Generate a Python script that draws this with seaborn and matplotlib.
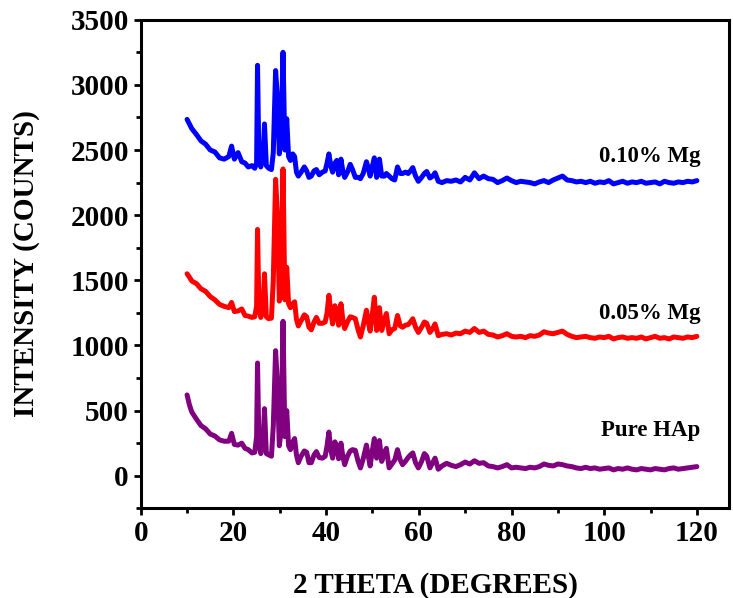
import pandas as pd
import matplotlib
matplotlib.use("Agg")
import matplotlib.pyplot as plt
from matplotlib.ticker import MultipleLocator
import seaborn as sns

# 2-theta sampling points (degrees), shared by all three patterns
two_theta = [
    10.0, 10.5, 11.0, 12.0, 13.0, 14.0, 15.0, 16.0, 17.0, 18.0,
    19.0, 19.6, 20.2, 21.0, 21.8, 22.5, 23.2, 24.0, 24.6, 25.0,
    25.2, 25.5, 25.9, 26.4, 26.7, 27.1, 27.6, 28.2, 28.6, 29.1,
    29.5, 29.9, 30.3, 30.7, 31.1, 31.5, 31.9, 32.3, 32.8, 33.2,
    33.6, 34.0, 34.6, 35.3, 35.8, 36.3, 36.8, 37.4, 37.9, 38.5,
    39.2, 39.8, 40.2, 40.6, 41.0, 41.4, 41.9, 42.3, 42.7, 43.2,
    43.6, 44.0, 44.6, 45.2, 45.7, 46.3, 46.9, 47.4, 48.0, 48.7,
    49.1, 49.5, 50.0, 50.4, 50.9, 51.5, 52.0, 52.6, 53.0, 53.6,
    54.2, 54.8, 55.4, 56.0, 56.5, 57.1, 57.7, 58.2, 58.7, 59.3,
    59.9, 60.6, 61.2, 61.7, 62.4, 63.0, 63.5, 64.2, 65.0, 66.0,
    67, 68, 69, 70, 71, 72, 73, 74, 75, 76,
    77, 78, 79, 80, 81, 82, 83, 84, 85, 86,
    87, 88, 89, 90, 91, 92, 93, 94, 95, 96,
    97, 98, 99, 100, 101, 102, 103, 104, 105, 106,
    107, 108, 109, 110, 111, 112, 113, 114, 115, 116,
    117, 118, 119, 120,
]

mg_010 = [
    2735, 2700, 2665, 2620, 2570, 2545, 2500, 2485, 2440, 2430,
    2450, 2530, 2430, 2480, 2410, 2400, 2370, 2380, 2360, 2400,
    3150, 2420, 2370, 2450, 2700, 2380, 2360, 2350, 2480, 3110,
    2900, 2470, 2600, 3250, 2500, 2740, 2450, 2420, 2470, 2450,
    2330, 2300, 2330, 2370, 2340, 2290, 2300, 2340, 2350, 2310,
    2330, 2340, 2400, 2470, 2380, 2330, 2400, 2420, 2310, 2430,
    2340, 2290, 2330, 2390, 2350, 2290, 2290, 2280, 2320, 2410,
    2360, 2300, 2380, 2440, 2290, 2430, 2300, 2300, 2320, 2300,
    2280, 2270, 2370, 2320, 2320, 2330, 2320, 2340, 2365, 2300,
    2260, 2290, 2320, 2335, 2285, 2300, 2325, 2260, 2250, 2265,
    2260, 2270, 2255, 2290, 2270, 2325, 2280, 2300, 2280, 2275,
    2250, 2265, 2285, 2265, 2250, 2260, 2255, 2250, 2240, 2255,
    2265, 2250, 2270, 2285, 2300, 2270, 2265, 2255, 2260, 2250,
    2260, 2245, 2255, 2250, 2265, 2240, 2250, 2260, 2245, 2255,
    2250, 2260, 2245, 2250, 2255, 2240, 2260, 2250, 2245, 2255,
    2250, 2260, 2255, 2265,
]

mg_005 = [
    1550, 1525, 1495, 1475, 1435, 1415, 1375, 1350, 1315, 1300,
    1290, 1330, 1260, 1265, 1280, 1230, 1225, 1215, 1220, 1300,
    1890, 1300, 1215, 1290, 1550, 1220, 1205, 1210, 1500, 2275,
    2000, 1340, 1500, 2355, 1350, 1600, 1320, 1290, 1320, 1335,
    1200, 1150, 1190, 1235, 1220, 1140, 1120, 1180, 1215, 1170,
    1170, 1180, 1250, 1385, 1260, 1165, 1305, 1250, 1155, 1320,
    1200, 1130, 1180, 1220, 1215, 1205, 1120, 1065, 1150, 1270,
    1180, 1110, 1250, 1370, 1115, 1290, 1115, 1200, 1245, 1090,
    1120, 1130, 1230, 1150, 1140, 1155, 1160, 1180, 1205, 1140,
    1100, 1140, 1180, 1170, 1100, 1130, 1165, 1075, 1085, 1090,
    1080, 1095, 1090, 1110, 1100, 1130, 1100, 1110, 1085, 1080,
    1065, 1075, 1090, 1070, 1065, 1070, 1060, 1075, 1070, 1080,
    1105, 1095, 1090, 1100, 1110, 1085, 1070, 1060, 1065, 1070,
    1060, 1055, 1065, 1060, 1070, 1050, 1060, 1065, 1055, 1060,
    1055, 1065, 1050, 1060, 1070, 1055, 1060, 1050, 1065, 1060,
    1055, 1065, 1060, 1070,
]

pure_hap = [
    620, 545, 490, 435, 385, 360, 320, 305, 275, 265,
    265, 325, 240, 235, 250, 210, 200, 175, 180, 300,
    865, 250, 170, 260, 515, 170, 160, 150, 380, 960,
    700, 230, 350, 1185, 300, 500, 230, 200, 260, 285,
    160, 100, 150, 190, 180, 100, 100, 160, 185, 140,
    135, 150, 230, 335, 200, 135, 260, 220, 130, 250,
    150, 85, 150, 190, 200, 195, 110, 60, 130, 235,
    150, 75, 200, 285, 135, 270, 110, 180, 210, 60,
    90, 120, 200, 120, 85, 110, 140, 160, 175, 100,
    60, 110, 170, 150, 60, 100, 135, 50, 75, 95,
    80, 70, 85, 105, 90, 115, 95, 100, 75, 70,
    60, 70, 85, 60, 65, 60, 55, 65, 60, 70,
    90, 80, 75, 90, 85, 75, 70, 60, 55, 65,
    55, 60, 50, 55, 60, 45, 55, 50, 60, 50,
    45, 55, 50, 45, 55, 50, 45, 55, 60, 50,
    55, 60, 65, 70,
]

samples = ["0.10% Mg", "0.05% Mg", "Pure HAp"]
label_y = [2450, 1245, 350]
colors = {"0.10% Mg": "#0000FF", "0.05% Mg": "#FF0000", "Pure HAp": "#800080"}

df = pd.concat([
    pd.DataFrame({"two_theta": two_theta, "intensity": mg_010, "sample": "0.10% Mg"}),
    pd.DataFrame({"two_theta": two_theta, "intensity": mg_005, "sample": "0.05% Mg"}),
    pd.DataFrame({"two_theta": two_theta, "intensity": pure_hap, "sample": "Pure HAp"}),
])

sns.set_style("ticks")
plt.rcParams["font.family"] = ["Liberation Serif", "DejaVu Serif"]
plt.rcParams["font.weight"] = "bold"
plt.rcParams["text.color"] = "black"
plt.rcParams["axes.labelcolor"] = "black"
plt.rcParams["xtick.color"] = "black"
plt.rcParams["ytick.color"] = "black"

fig = plt.figure(figsize=(7.33, 5.98), dpi=100)
ax = fig.add_axes([0.192, 0.150, 0.803, 0.817])

sns.lineplot(data=df, x="two_theta", y="intensity", hue="sample", palette=colors,
             estimator=None, sort=False, linewidth=3.6, legend=False, ax=ax)

for name, ly in zip(samples, label_y):
    ax.text(120.7, ly, name, ha="right", va="center", fontsize=16.5,
            fontweight="bold", color="black")

ax.xaxis.set_minor_locator(MultipleLocator(10))
ax.yaxis.set_minor_locator(MultipleLocator(250))
ax.set_xticks(range(0, 121, 20))
ax.set_yticks(range(0, 3501, 500))
ax.set_xlim(0, 127)
ax.set_ylim(-250, 3500)

ax.tick_params(which="major", direction="out", length=5, width=2, labelsize=21,
               colors="black")
ax.tick_params(which="minor", direction="out", length=3.5, width=2, colors="black")
for lab in ax.get_xticklabels() + ax.get_yticklabels():
    lab.set_fontweight("bold")
for sp in ax.spines.values():
    sp.set_linewidth(2.2)
    sp.set_color("black")

ax.set_xlabel("2 THETA (DEGREES)", fontsize=21, fontweight="bold", labelpad=18)
ax.set_ylabel("INTENSITY (COUNTS)", fontsize=21, fontweight="bold", labelpad=22)

fig.savefig("out.png", dpi=100)
